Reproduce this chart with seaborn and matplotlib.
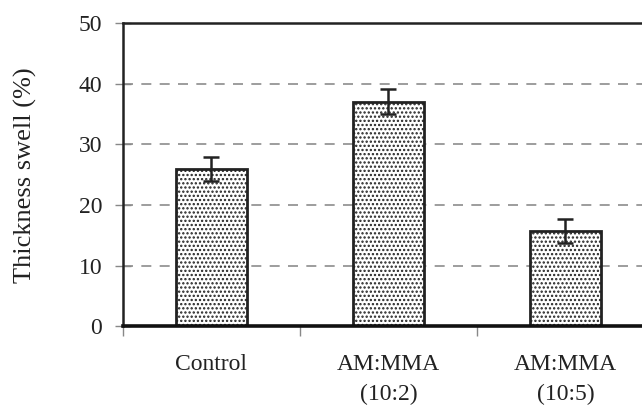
import matplotlib
matplotlib.use("Agg")
import matplotlib.pyplot as plt
import seaborn as sns
import pandas as pd
from matplotlib.ticker import FixedLocator

# Thickness swell of treated samples
categories = ["Control", "AM:MMA\n(10:2)", "AM:MMA\n(10:5)"]
swell = [25.9, 37.1, 15.7]
swell_err = [2.0, 2.0, 2.0]
y_ticks = [0, 10, 20, 30, 40, 50]

df = pd.DataFrame({"treatment": categories, "swell": swell})

sns.set_style("white")
plt.rcParams["font.family"] = ["Liberation Serif", "DejaVu Serif"]
plt.rcParams["hatch.linewidth"] = 1.1
plt.rcParams["hatch.color"] = "#2a2a2a"

fig = plt.figure(figsize=(6.42, 4.07), dpi=100)
ax = fig.add_axes([0.1916, 0.199, 0.827, 0.7433])

# dashed horizontal grid behind the bars
for v in y_ticks[1:-1]:
    ax.axhline(v, color="#8c8c8c", lw=1.2, ls=(0, (6, 5)), zorder=0)

sns.barplot(data=df, x="treatment", y="swell", order=categories,
            width=0.4, color="white", edgecolor="#222222", linewidth=2.0,
            errorbar=None, ax=ax, zorder=2)
for patch in ax.patches:
    patch.set_hatch("....")

ax.errorbar(range(len(categories)), swell, yerr=swell_err, fmt="none",
            ecolor="#222222", elinewidth=1.8, capsize=5.8, capthick=1.8,
            zorder=3)

ax.set_xlim(-0.5, 2.5)
ax.set_ylim(0, 50)
ax.set_yticks(y_ticks)
ax.set_xlabel("")
ax.set_ylabel("Thickness swell (%)", fontsize=19, color="#222222", labelpad=30)

ax.tick_params(axis="y", direction="inout", length=12, width=1.0,
               color="#888888", labelsize=17, labelcolor="#222222", pad=9,
               left=True)
ax.tick_params(axis="x", which="major", length=0, labelsize=17,
               labelcolor="#222222", pad=20)
ax.xaxis.set_minor_locator(FixedLocator([-0.5, 0.5, 1.5]))
ax.tick_params(axis="x", which="minor", direction="out", length=7,
               width=1.0, color="#888888", bottom=True)
for lbl in ax.get_xticklabels():
    lbl.set_linespacing(1.55)

for side in ["left", "top", "right"]:
    ax.spines[side].set_color("#222222")
    ax.spines[side].set_linewidth(1.8)
ax.spines["bottom"].set_color("#111111")
ax.spines["bottom"].set_linewidth(2.6)

fig.savefig("out.png", dpi=100)
